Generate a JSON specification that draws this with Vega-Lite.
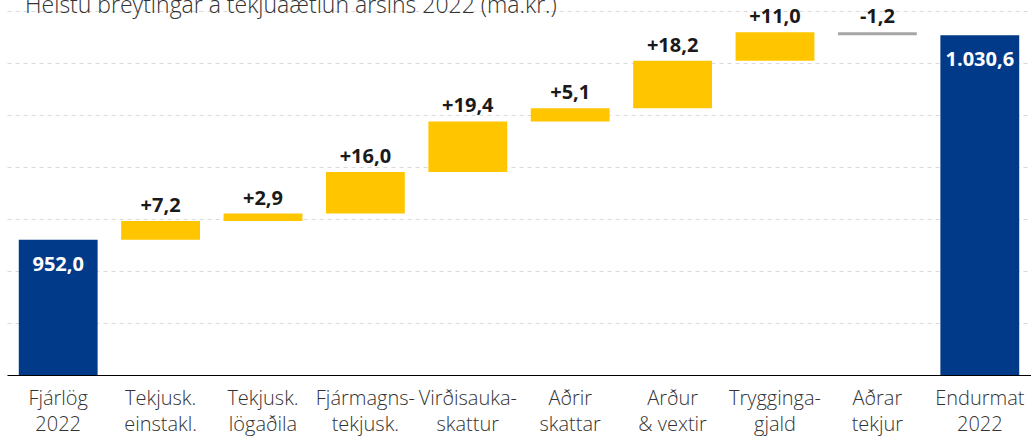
{
  "$schema": "https://vega.github.io/schema/vega-lite/v6.json",
  "width": 1024,
  "height": 375,
  "autosize": "none",
  "padding": {"left": 7, "top": 0, "right": 0, "bottom": 61},
  "background": "#ffffff",
  "title": {
    "text": "Helstu breytingar á tekjuáætlun ársins 2022 (ma.kr.)",
    "anchor": "start",
    "frame": "group",
    "offset": -36,
    "baseline": "alphabetic",
    "dx": 18,
    "fontSize": 23,
    "font": "Open Sans",
    "fontWeight": 300,
    "color": "#333333"
  },
  "config": {
    "view": {"stroke": null},
    "font": "Open Sans"
  },
  "data": {
    "values": [
      {"cat": "Fjárlög|2022", "start": 0, "end": 952.0, "type": "total", "label": "952,0"},
      {"cat": "Tekjusk.|einstakl.", "start": 952.0, "end": 959.2, "type": "inc", "label": "+7,2"},
      {"cat": "Tekjusk.|lögaðila", "start": 959.2, "end": 962.1, "type": "inc", "label": "+2,9"},
      {"cat": "Fjármagns-|tekjusk.", "start": 962.1, "end": 978.1, "type": "inc", "label": "+16,0"},
      {"cat": "Virðisauka-|skattur", "start": 978.1, "end": 997.5, "type": "inc", "label": "+19,4"},
      {"cat": "Aðrir|skattar", "start": 997.5, "end": 1002.6, "type": "inc", "label": "+5,1"},
      {"cat": "Arður|& vextir", "start": 1002.6, "end": 1020.8, "type": "inc", "label": "+18,2"},
      {"cat": "Trygginga-|gjald", "start": 1020.8, "end": 1031.8, "type": "inc", "label": "+11,0"},
      {"cat": "Aðrar|tekjur", "start": 1031.8, "end": 1030.6, "type": "dec", "label": "-1,2"},
      {"cat": "Endurmat|2022", "start": 0, "end": 1030.6, "type": "total", "label": "1.030,6"}
    ]
  },
  "encoding": {
    "x": {
      "field": "cat",
      "type": "nominal",
      "sort": null,
      "scale": {"paddingInner": 0.23, "paddingOuter": 0.115},
      "axis": {
        "title": null,
        "labelAngle": 0,
        "labelExpr": "split(datum.label, '|')",
        "labelFontSize": 20,
        "labelLineHeight": 26,
        "labelColor": "#333333",
        "labelFont": "Open Sans",
        "labelFontWeight": 300,
        "labelPadding": 13,
        "labelOverlap": false,
        "labelLimit": 0,
        "ticks": false,
        "domainColor": "#000000",
        "domainWidth": 1,
        "zindex": 2
      }
    }
  },
  "layer": [
    {
      "mark": {"type": "bar", "clip": true},
      "encoding": {
        "y": {
          "field": "start",
          "type": "quantitative",
          "scale": {"domain": [900, 1044.2], "nice": false, "zero": false},
          "axis": {
            "title": null,
            "labels": false,
            "ticks": false,
            "domain": false,
            "grid": true,
            "values": [900, 920, 940, 960, 980, 1000, 1020, 1040],
            "gridColor": "#d9d9d9",
            "gridDash": [4, 4],
            "gridWidth": 1
          }
        },
        "y2": {"field": "end"},
        "color": {
          "field": "type",
          "type": "nominal",
          "scale": {"domain": ["total", "inc", "dec"], "range": ["#023a8a", "#ffc600", "#a6a6a6"]},
          "legend": null
        }
      }
    },
    {
      "transform": [{"filter": "datum.type === 'inc'"}],
      "mark": {"type": "text", "baseline": "middle", "dy": -15, "fontSize": 20, "fontWeight": "bold", "color": "#1a1a1a"},
      "encoding": {
        "y": {"field": "end", "type": "quantitative"},
        "text": {"field": "label"}
      }
    },
    {
      "transform": [{"filter": "datum.type === 'dec'"}],
      "mark": {"type": "text", "baseline": "middle", "dy": -15, "fontSize": 20, "fontWeight": "bold", "color": "#1a1a1a"},
      "encoding": {
        "y": {"field": "start", "type": "quantitative"},
        "text": {"field": "label"}
      }
    },
    {
      "transform": [{"filter": "datum.type === 'total'"}],
      "mark": {"type": "text", "baseline": "middle", "dy": 25, "fontSize": 20, "fontWeight": "bold", "color": "#ffffff"},
      "encoding": {
        "y": {"field": "end", "type": "quantitative"},
        "text": {"field": "label"}
      }
    }
  ]
}
